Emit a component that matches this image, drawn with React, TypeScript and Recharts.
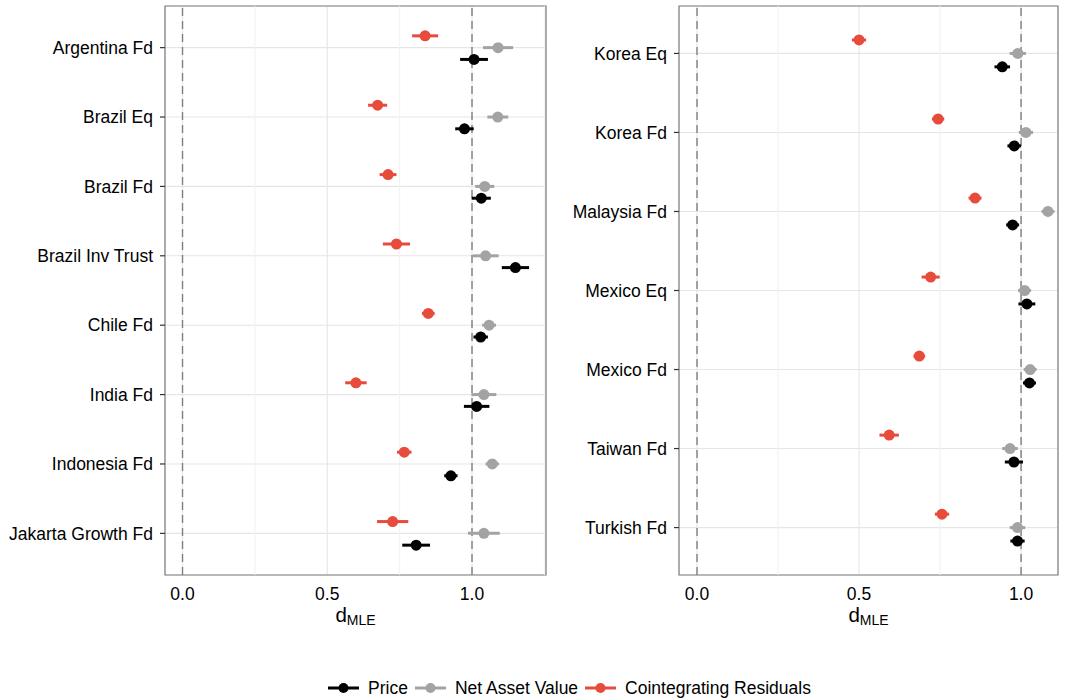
import React from 'react'
import {
  ScatterChart,
  Scatter,
  XAxis,
  YAxis,
  CartesianGrid,
  ErrorBar,
  ReferenceLine,
  ReferenceArea,
} from 'recharts'

// series colours
const PRICE_COLOR = '#000000'
const NAV_COLOR = '#a3a3a3'
const RESID_COLOR = '#e64b3c'

const FONT = '"Liberation Sans", Arial, Helvetica, sans-serif'

// vertical dodge between the three estimates of one fund
const DODGE = 0.17

// left panel
const leftNames = [
  'Argentina Fd',
  'Brazil Eq',
  'Brazil Fd',
  'Brazil Inv Trust',
  'Chile Fd',
  'India Fd',
  'Indonesia Fd',
  'Jakarta Growth Fd',
]
const leftPrice = [1.007, 0.974, 1.032, 1.15, 1.03, 1.016, 0.927, 0.807]
const leftPriceErr = [0.048, 0.032, 0.033, 0.047, 0.025, 0.044, 0.023, 0.048]
const leftNav = [1.09, 1.089, 1.044, 1.047, 1.059, 1.041, 1.07, 1.041]
const leftNavErr = [0.052, 0.036, 0.033, 0.045, 0.024, 0.043, 0.023, 0.055]
const leftResid = [0.838, 0.674, 0.71, 0.739, 0.849, 0.599, 0.766, 0.726]
const leftResidErr = [0.045, 0.033, 0.029, 0.047, 0.022, 0.037, 0.025, 0.054]

// right panel
const rightNames = ['Korea Eq', 'Korea Fd', 'Malaysia Fd', 'Mexico Eq', 'Mexico Fd', 'Taiwan Fd', 'Turkish Fd']
const rightPrice = [0.942, 0.979, 0.974, 1.018, 1.026, 0.978, 0.989]
const rightPriceErr = [0.024, 0.021, 0.02, 0.026, 0.02, 0.028, 0.022]
const rightNav = [0.99, 1.015, 1.083, 1.011, 1.028, 0.966, 0.989]
const rightNavErr = [0.025, 0.022, 0.02, 0.02, 0.02, 0.024, 0.024]
const rightResid = [0.5, 0.744, 0.858, 0.721, 0.686, 0.593, 0.756]
const rightResidErr = [0.022, 0.019, 0.02, 0.028, 0.018, 0.03, 0.022]

const xTicks = [0, 0.5, 1]

const legendItems = [
  { name: 'Price', color: PRICE_COLOR },
  { name: 'Net Asset Value', color: NAV_COLOR },
  { name: 'Cointegrating Residuals', color: RESID_COLOR },
]

const toRows = (vals: number[], errs: number[], shift: number) =>
  vals.map((v, i) => ({ x: v, y: i + shift, err: errs[i] }))

const dot = (color: string) => (props: any) =>
  <circle cx={props.cx} cy={props.cy} r={5.5} fill={color} />

const AxisTitle = (props: any) => {
  const { viewBox } = props
  const cx = viewBox.x + viewBox.width / 2
  return (
    <text x={cx} y={viewBox.y + 47} textAnchor="middle" fill="#000" fontSize={20.5} fontFamily={FONT}>
      <tspan>d</tspan>
      <tspan fontSize={14} dy={3}>MLE</tspan>
    </text>
  )
}

interface PanelProps {
  names: string[]
  price: number[]
  priceErr: number[]
  nav: number[]
  navErr: number[]
  resid: number[]
  residErr: number[]
  xMin: number
  xMax: number
  minor: number[]
  width: number
  yAxisWidth: number
  marginRight: number
}

function Panel(p: PanelProps) {
  const n = p.names.length
  const yMin = -0.6
  const yMax = n - 0.4
  const series = [
    { key: 'resid', color: RESID_COLOR, data: toRows(p.resid, p.residErr, -DODGE) },
    { key: 'nav', color: NAV_COLOR, data: toRows(p.nav, p.navErr, 0) },
    { key: 'price', color: PRICE_COLOR, data: toRows(p.price, p.priceErr, DODGE) },
  ]

  return (
    <ScatterChart
      width={p.width}
      height={640}
      margin={{ top: 6, right: p.marginRight, bottom: 0, left: 0 }}
      style={{ fontFamily: FONT }}
    >
      <CartesianGrid stroke="#e5e5e5" strokeWidth={1.1} />
      {p.minor.map((m) => (
        <ReferenceLine key={m} x={m} stroke="#f2f2f2" strokeWidth={1.1} />
      ))}
      <XAxis
        type="number"
        dataKey="x"
        domain={[p.xMin, p.xMax]}
        ticks={xTicks}
        allowDataOverflow
        tickFormatter={(v: number) => v.toFixed(1)}
        axisLine={false}
        tickLine={false}
        tickSize={0}
        tickMargin={13}
        height={65}
        tick={{ fill: '#000', fontSize: 17.5 }}
        label={{ content: AxisTitle }}
      />
      <YAxis
        type="number"
        dataKey="y"
        domain={[yMin, yMax]}
        ticks={p.names.map((_, i) => i)}
        interval={0}
        reversed
        allowDataOverflow
        tickFormatter={(i: number) => p.names[i]}
        width={p.yAxisWidth}
        axisLine={false}
        tickSize={5}
        tickMargin={7}
        tickLine={{ stroke: '#333', strokeWidth: 1.2 }}
        tick={{ fill: '#000', fontSize: 17.5 }}
      />
      <ReferenceLine x={0} stroke="#7f7f7f" strokeDasharray="8 5" strokeWidth={1.4} />
      <ReferenceLine x={1} stroke="#7f7f7f" strokeDasharray="8 5" strokeWidth={1.4} />
      <ReferenceArea
        x1={p.xMin}
        x2={p.xMax}
        y1={yMin}
        y2={yMax}
        fill="none"
        fillOpacity={0}
        stroke="#7f7f7f"
        strokeWidth={1.2}
        ifOverflow="visible"
      />
      {series.map((s) => (
        <Scatter key={s.key} data={s.data} fill={s.color} shape={dot(s.color)} isAnimationActive={false}>
          <ErrorBar dataKey="err" direction="x" width={0} strokeWidth={3} stroke={s.color} isAnimationActive={false} />
        </Scatter>
      ))}
    </ScatterChart>
  )
}

function LegendRow() {
  return (
    <div
      style={{
        position: 'absolute',
        left: 328,
        top: 678,
        height: 20,
        display: 'flex',
        alignItems: 'center',
        fontFamily: FONT,
        fontSize: 17.5,
        color: '#000',
      }}
    >
      {legendItems.map((item) => (
        <div key={item.name} style={{ display: 'flex', alignItems: 'center', marginRight: 7 }}>
          <svg width={31} height={20}>
            <line x1={0} x2={31} y1={10} y2={10} stroke={item.color} strokeWidth={3} />
            <circle cx={15.5} cy={10} r={5} fill={item.color} />
          </svg>
          <span style={{ marginLeft: 9, whiteSpace: 'nowrap' }}>{item.name}</span>
        </div>
      ))}
    </div>
  )
}

export default function App() {
  return (
    <div
      style={{
        position: 'absolute',
        left: 0,
        top: 0,
        width: 1065,
        height: 700,
        background: '#fff',
        fontFamily: FONT,
      }}
    >
      <div style={{ position: 'absolute', left: 0, top: 0 }}>
        <Panel
          names={leftNames}
          price={leftPrice}
          priceErr={leftPriceErr}
          nav={leftNav}
          navErr={leftNavErr}
          resid={leftResid}
          residErr={leftResidErr}
          xMin={-0.0605}
          xMax={1.2556}
          minor={[0.25, 0.75, 1.25]}
          width={560}
          yAxisWidth={165}
          marginRight={14}
        />
      </div>
      <div style={{ position: 'absolute', left: 560, top: 0 }}>
        <Panel
          names={rightNames}
          price={rightPrice}
          priceErr={rightPriceErr}
          nav={rightNav}
          navErr={rightNavErr}
          resid={rightResid}
          residErr={rightResidErr}
          xMin={-0.0556}
          xMax={1.114}
          minor={[0.25, 0.75]}
          width={505}
          yAxisWidth={119}
          marginRight={7}
        />
      </div>
      <LegendRow />
    </div>
  )
}
